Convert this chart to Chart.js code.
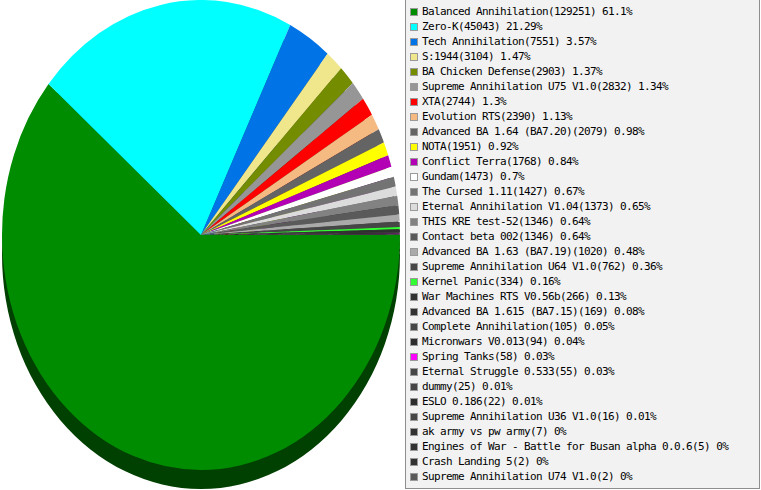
<!DOCTYPE html>
<html>
<head>
<meta charset="utf-8">
<script src="https://cdn.jsdelivr.net/npm/chart.js@4/dist/chart.umd.min.js"></script>
<style>
  html, body { margin: 0; padding: 0; background: #ffffff; overflow: hidden; }
  body { width: 761px; height: 490px; position: relative; }
  #wrap { position: absolute; left: 0; top: 0; width: 470px; height: 490px; }
  #legend {
    position: absolute; left: 405px; top: -1px; width: 353px; height: 488px;
    background: #f2f2f2; border: 1px solid #8e8e8e; z-index: 2;
    font-family: "DejaVu Sans Mono", "Liberation Mono", monospace;
    font-size: 11px; letter-spacing: -0.62px; color: #000;
  }
  .item { position: absolute; left: 0; height: 15px; line-height: 15px; white-space: nowrap; }
  .box { position: absolute; left: 4px; top: 4px; width: 6px; height: 6px; border: 1px solid #9a9a9a; }
  .txt { position: absolute; left: 16px; top: 0; }
</style>
</head>
<body>
<div id="wrap"><canvas id="c"></canvas></div>
<div id="legend"></div>
<script>
const labels = [
  "Balanced Annihilation", "Zero-K", "Tech Annihilation", "S:1944", "BA Chicken Defense",
  "Supreme Annihilation U75 V1.0", "XTA", "Evolution RTS", "Advanced BA 1.64 (BA7.20)", "NOTA",
  "Conflict Terra", "Gundam", "The Cursed 1.11", "Eternal Annihilation V1.04", "THIS KRE test-52",
  "Contact beta 002", "Advanced BA 1.63 (BA7.19)", "Supreme Annihilation U64 V1.0", "Kernel Panic",
  "War Machines RTS V0.56b", "Advanced BA 1.615 (BA7.15)", "Complete Annihilation", "Micronwars V0.013",
  "Spring Tanks", "Eternal Struggle 0.533", "dummy", "ESLO 0.186", "Supreme Annihilation U36 V1.0",
  "ak army vs pw army", "Engines of War - Battle for Busan alpha 0.0.6", "Crash Landing 5",
  "Supreme Annihilation U74 V1.0"
];
const values = [
  129251, 45043, 7551, 3104, 2903, 2832, 2744, 2390, 2079, 1951,
  1768, 1473, 1427, 1373, 1346, 1346, 1020, 762, 334, 266,
  169, 105, 94, 58, 55, 25, 22, 16, 7, 5, 2, 2
];
const percents = [
  61.1, 21.29, 3.57, 1.47, 1.37, 1.34, 1.3, 1.13, 0.98, 0.92,
  0.84, 0.7, 0.67, 0.65, 0.64, 0.64, 0.48, 0.36, 0.16, 0.13,
  0.08, 0.05, 0.04, 0.03, 0.03, 0.01, 0.01, 0.01, 0, 0, 0, 0
];
const colors = [
  "#008c00", "#00ffff", "#0073e6", "#f0e68c", "#738c00", "#969696", "#ff0000", "#f5b982", "#646464", "#ffff00",
  "#b400b4", "#ffffff", "#737373", "#dcdcdc", "#828282", "#5a5a5a", "#aaaaaa", "#464646", "#32ff32", "#323232",
  "#323232", "#464646", "#2d2d2d", "#ff00ff", "#464646", "#464646", "#2d2d2d", "#464646", "#323232", "#323232",
  "#323232", "#5a5a5a"
];

const PIE_CX = 201, PIE_CY = 235, RX = 199, RY = 235, DEPTH = 19;

function darken(hex, f) {
  const n = parseInt(hex.slice(1), 16);
  const r = Math.round(((n >> 16) & 255) * f), g = Math.round(((n >> 8) & 255) * f), b = Math.round((n & 255) * f);
  return "rgb(" + r + "," + g + "," + b + ")";
}

const ellipsePlugin = {
  id: "ellipse3d",
  beforeDatasetsDraw(chart) {
    const ctx = chart.ctx;
    const meta = chart.getDatasetMeta(0);
    const arcs = meta.data;
    if (!arcs.length) return;
    const ax = arcs[0].x, ay = arcs[0].y;
    ctx.save();
    ctx.translate(PIE_CX, PIE_CY);
    ctx.scale(RX / RY, 1);
    ctx.translate(-ax, -ay);
    // depth (side wall) drawn from the library's arc geometry
    ctx.save();
    ctx.translate(0, DEPTH);
    arcs.forEach((a, i) => {
      const p = a.getProps(["x", "y", "startAngle", "endAngle", "outerRadius"], true);
      ctx.beginPath();
      ctx.moveTo(p.x, p.y);
      ctx.arc(p.x, p.y, p.outerRadius, p.startAngle, p.endAngle);
      ctx.closePath();
      ctx.fillStyle = darken(colors[i], 0.46);
      ctx.fill();
    });
    ctx.restore();
  },
  afterDatasetsDraw(chart) {
    chart.ctx.restore();
  }
};

new Chart(document.getElementById("c"), {
  type: "pie",
  data: {
    labels: labels,
    datasets: [{
      data: values,
      backgroundColor: colors,
      borderWidth: 0,
      hoverOffset: 0,
      radius: RY,
      clip: false
    }]
  },
  options: {
    responsive: true,
    maintainAspectRatio: false,
    animation: false,
    rotation: 90,
    events: [],
    layout: { padding: 0 },
    plugins: { legend: { display: false }, tooltip: { enabled: false } }
  },
  plugins: [ellipsePlugin]
});

const legend = document.getElementById("legend");
labels.forEach((lab, i) => {
  const item = document.createElement("div");
  item.className = "item";
  item.style.top = (4 + i * 15) + "px";
  const box = document.createElement("div");
  box.className = "box";
  box.style.background = colors[i];
  const txt = document.createElement("div");
  txt.className = "txt";
  txt.textContent = lab + "(" + values[i] + ") " + percents[i] + "%";
  item.appendChild(box);
  item.appendChild(txt);
  legend.appendChild(item);
});
</script>
</body>
</html>
